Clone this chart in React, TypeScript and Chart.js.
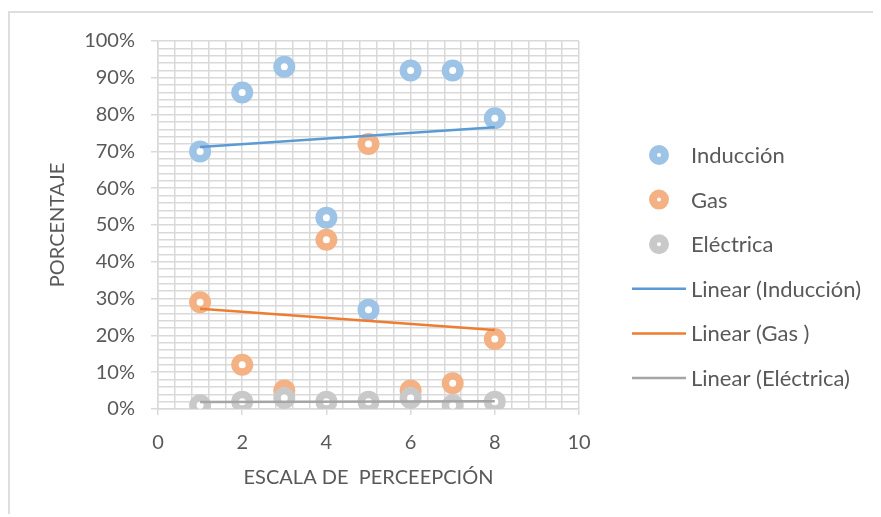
import React, { useEffect, useRef } from 'react';
import { Chart, registerables } from 'chart.js';

Chart.register(...registerables);

// Perception scale (x) and percentage per cooking type (y, %)
const escala = [1, 2, 3, 4, 5, 6, 7, 8];
const induccion = [70, 86, 93, 52, 27, 92, 92, 79];
const gas = [29, 12, 5, 46, 72, 5, 7, 19];
const electrica = [1, 2, 3, 2, 2, 3, 1, 2];

const xMajorTicks = [0, 2, 4, 6, 8, 10];
const yMajorTicks = [0, 10, 20, 30, 40, 50, 60, 70, 80, 90, 100];

const FONT = "Lato, 'Open Sans', sans-serif";
const TEXT = '#595959';
const GRID = '#d9d9d9';

const near = (list: number[], v: number) => list.some((t) => Math.abs(t - v) < 1e-6);

// Least-squares line through the series, evaluated at the first and last x
function linearTrend(xs: number[], ys: number[]) {
  const n = xs.length;
  const mx = xs.reduce((a, b) => a + b, 0) / n;
  const my = ys.reduce((a, b) => a + b, 0) / n;
  let sxy = 0;
  let sxx = 0;
  for (let i = 0; i < n; i++) {
    sxy += (xs[i] - mx) * (ys[i] - my);
    sxx += (xs[i] - mx) * (xs[i] - mx);
  }
  const slope = sxy / sxx;
  const x0 = Math.min(...xs);
  const x1 = Math.max(...xs);
  return [
    { x: x0, y: my + slope * (x0 - mx) },
    { x: x1, y: my + slope * (x1 - mx) },
  ];
}

const toPoints = (ys: number[]) => escala.map((x, i) => ({ x, y: ys[i] }));

const markerDataset = (label: string, ys: number[], color: string, order: number) => ({
  type: 'scatter' as const,
  label,
  data: toPoints(ys),
  showLine: false,
  pointRadius: 7.25,
  pointHoverRadius: 7.25,
  pointBorderWidth: 7.5,
  pointBackgroundColor: '#ffffff',
  pointBorderColor: color,
  order,
});

const trendDataset = (label: string, ys: number[], color: string) => ({
  type: 'line' as const,
  label,
  data: linearTrend(escala, ys),
  borderColor: color,
  borderWidth: 2.5,
  pointRadius: 0,
  fill: false,
  order: 0,
});

// Legend drawn to the right of the plot: ring markers for the series, lines for trends
const sideLegend = {
  id: 'sideLegend',
  afterDraw(chart: any) {
    const { ctx, chartArea } = chart;
    const right = chartArea.right;
    const y0 = chartArea.top + 114;
    const step = 44.6;
    ctx.save();
    ctx.font = `22px ${FONT}`;
    ctx.textBaseline = 'middle';
    ctx.textAlign = 'left';
    chart.data.datasets.forEach((ds: any, i: number) => {
      const y = y0 + i * step;
      if (ds.type === 'scatter') {
        ctx.beginPath();
        ctx.arc(right + 80, y, 6, 0, Math.PI * 2);
        ctx.fillStyle = '#ffffff';
        ctx.fill();
        ctx.lineWidth = 8;
        ctx.strokeStyle = ds.pointBorderColor;
        ctx.stroke();
      } else {
        ctx.beginPath();
        ctx.moveTo(right + 53, y);
        ctx.lineTo(right + 107, y);
        ctx.lineWidth = 2.5;
        ctx.strokeStyle = ds.borderColor;
        ctx.stroke();
      }
      ctx.fillStyle = TEXT;
      ctx.fillText(ds.label, right + 112, y + 1);
    });
    ctx.restore();
  },
};

export default function App() {
  const canvasRef = useRef<HTMLCanvasElement | null>(null);

  useEffect(() => {
    if (!canvasRef.current) return;
    const chart = new Chart(canvasRef.current, {
      type: 'scatter',
      data: {
        datasets: [
          markerDataset('Inducción', induccion, '#9dc3e6', 3),
          markerDataset('Gas', gas, '#f4b183', 2),
          markerDataset('Eléctrica', electrica, '#c9c9c9', 1),
          trendDataset('Linear (Inducción)', induccion, '#5b9bd5'),
          trendDataset('Linear (Gas )', gas, '#ed7d31'),
          trendDataset('Linear (Eléctrica)', electrica, '#a5a5a5'),
        ] as any,
      },
      options: {
        animation: false,
        responsive: false,
        devicePixelRatio: 1,
        layout: { padding: { top: 28, right: 302, left: 0, bottom: 0 } },
        plugins: {
          legend: { display: false },
          tooltip: { enabled: false },
        },
        scales: {
          x: {
            type: 'linear',
            min: 0,
            max: 10,
            ticks: {
              stepSize: 0.4,
              autoSkip: false,
              maxRotation: 0,
              padding: 16,
              color: TEXT,
              font: { family: FONT, size: 20 },
              callback: (v: any) => (near(xMajorTicks, Number(v)) ? String(v) : ''),
            },
            grid: {
              color: GRID,
              lineWidth: 1.5,
              tickLength: 6,
              tickColor: (c: any) => (near(xMajorTicks, c.tick?.value) ? GRID : 'rgba(0,0,0,0)'),
            },
            border: { color: GRID, width: 1.5 },
            title: {
              display: true,
              text: 'ESCALA DE  PERCEEPCIÓN',
              color: TEXT,
              font: { family: FONT, size: 20 },
              padding: { top: 0, bottom: 27 },
            },
            afterFit: (s: any) => {
              s.height = 108;
            },
          },
          y: {
            type: 'linear',
            min: 0,
            max: 100,
            ticks: {
              stepSize: 2,
              autoSkip: false,
              padding: 16,
              color: TEXT,
              font: { family: FONT, size: 20 },
              callback: (v: any) => (near(yMajorTicks, Number(v)) ? `${v}%` : ''),
            },
            grid: {
              color: GRID,
              lineWidth: 1.5,
              tickLength: 7,
              tickColor: (c: any) => (near(yMajorTicks, c.tick?.value) ? GRID : 'rgba(0,0,0,0)'),
            },
            border: { color: GRID, width: 1.5 },
            title: {
              display: true,
              text: 'PORCENTAJE',
              color: TEXT,
              font: { family: FONT, size: 20 },
              padding: { top: 36, bottom: 0 },
            },
            afterFit: (s: any) => {
              s.width = 148;
            },
          },
        },
      } as any,
      plugins: [sideLegend],
    });
    return () => chart.destroy();
  }, []);

  return (
    <div
      style={{
        position: 'relative',
        top: 3,
        width: 873,
        height: 506,
        boxSizing: 'border-box',
        borderLeft: '2px solid #dedede',
        borderTop: '2px solid #dedede',
      }}
    >
      <canvas ref={canvasRef} width={871} height={504} style={{ display: 'block' }} />
    </div>
  );
}
